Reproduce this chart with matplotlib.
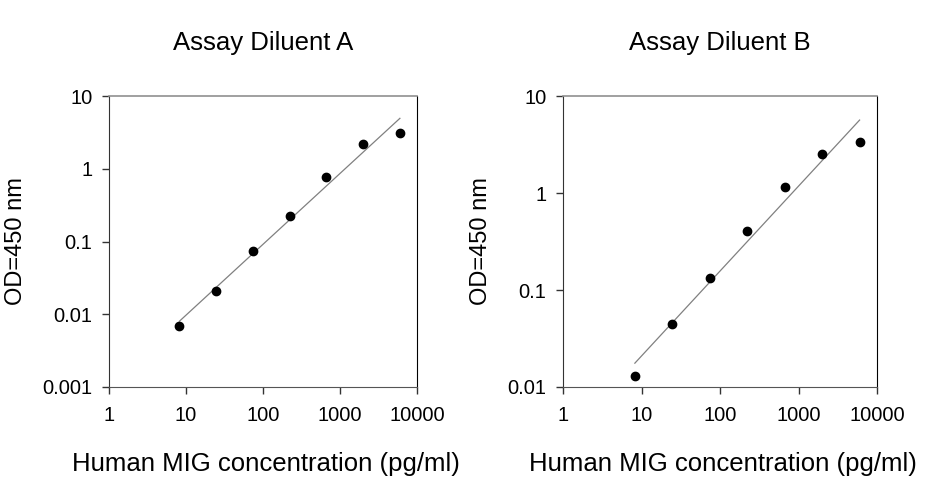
import numpy as np
import matplotlib
matplotlib.use("Agg")
import matplotlib.pyplot as plt

plt.rcParams["font.family"] = ["Liberation Sans", "DejaVu Sans"]

# MIG standard concentrations (pg/ml), 3-fold dilutions
conc = [8.23, 24.7, 74.1, 222, 667, 2000, 6000]
od_a = [0.0069, 0.021, 0.073, 0.224, 0.78, 2.16, 3.1]
od_b = [0.0129, 0.045, 0.132, 0.41, 1.16, 2.52, 3.38]

titles = ["Assay Diluent A", "Assay Diluent B"]
x_ticks = [1, 10, 100, 1000, 10000]
x_labels = ["1", "10", "100", "1000", "10000"]
y_ticks_a = [0.001, 0.01, 0.1, 1, 10]
y_labels_a = ["0.001", "0.01", "0.1", "1", "10"]
y_ticks_b = [0.01, 0.1, 1, 10]
y_labels_b = ["0.01", "0.1", "1", "10"]

fig = plt.figure(figsize=(9.26, 4.8), dpi=100)
ax_a = fig.add_axes([0.1177, 0.19375, 0.3326, 0.60625])
ax_b = fig.add_axes([0.608, 0.19375, 0.3391, 0.60625])

panels = [
    (ax_a, od_a, titles[0], y_ticks_a, y_labels_a, (0.001, 10), 0.51),
    (ax_b, od_b, titles[1], y_ticks_b, y_labels_b, (0.01, 10), 0.51),
]

for ax, od, title, yt, yl, ylim, xlab_x in panels:
    # log-log linear fit
    lx, ly = np.log10(conc), np.log10(od)
    k, b = np.polyfit(lx, ly, 1)
    fx = np.array([conc[0], conc[-1]])
    ax.plot(fx, 10 ** (k * np.log10(fx) + b), color="#808080", lw=0.9)
    ax.plot(conc, od, "o", color="black", ms=6, mec="black")

    ax.set_xscale("log")
    ax.set_yscale("log")
    ax.set_xlim(1, 10000)
    ax.set_ylim(*ylim)
    ax.set_xticks(x_ticks, x_labels)
    ax.set_yticks(yt, yl)
    ax.minorticks_off()
    ax.tick_params(labelsize=14.5, length=5, width=1, color="#333333")
    ax.tick_params(axis="x", pad=9)
    ax.tick_params(axis="y", pad=7)

    ax.spines["top"].set_color("#909090")
    ax.spines["top"].set_linewidth(1.2)
    ax.spines["right"].set_color("black")
    ax.spines["left"].set_color("#333333")
    ax.spines["bottom"].set_color("#555555")

    ax.set_title(title, fontsize=18.5, pad=33)
    ax.set_xlabel("Human MIG concentration (pg/ml)", fontsize=18.5, labelpad=19)
    ax.xaxis.label.set_x(xlab_x)
    ax.set_ylabel("OD=450 nm", fontsize=17, labelpad=11)

fig.savefig("out.png", dpi=100)
